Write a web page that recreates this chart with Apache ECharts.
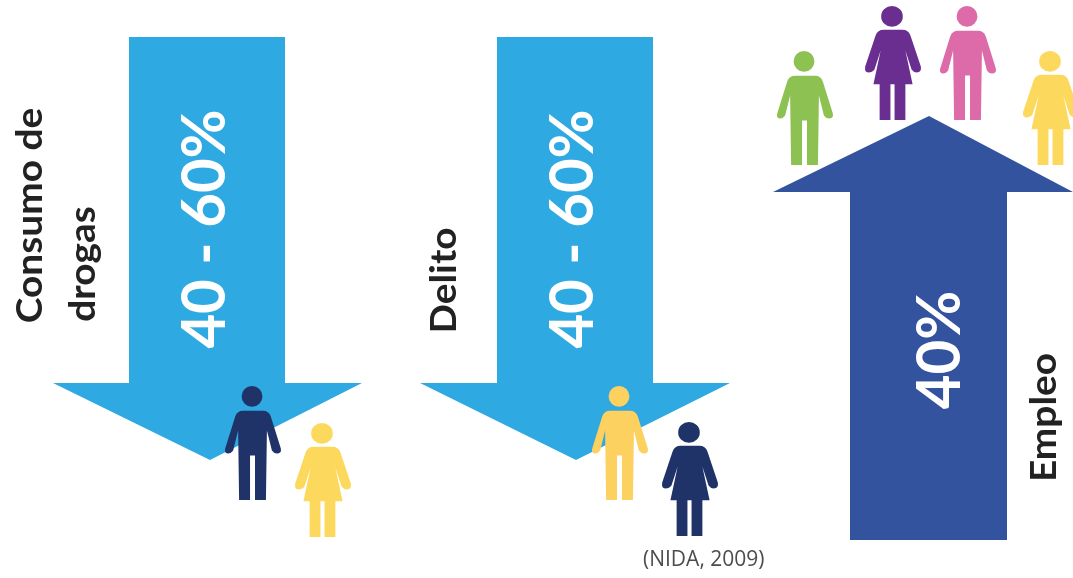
<!DOCTYPE html>
<html>
<head>
<meta charset="utf-8">
<style>html,body{margin:0;padding:0;background:#fff}#main{width:1073px;height:578px}</style>
<script src="https://cdn.jsdelivr.net/npm/echarts@6/dist/echarts.min.js"></script>
</head>
<body>
<div id="main"></div>
<script>
// Outcome names and the share quoted on each arrow
const outcomeLines = [['Consumo de', 'drogas'], ['Delito'], ['Empleo']];
const shareLabels = ['40 - 60%', '40 - 60%', '40%'];
const sourceNote = '(NIDA, 2009)';

// Figures standing beside each arrow: which arrow, silhouette, colour name
const figureArrow = [0, 0, 1, 1, 2, 2, 2, 2];
const figureKind = ['man', 'woman', 'man', 'woman', 'man', 'woman', 'man', 'woman'];
const figureTone = ['navy', 'yellow', 'amber', 'navy', 'green', 'purple', 'pink', 'yellow'];

// Layout, in units of the hidden page-sized axes
const arrowShapes = [
  { shaft: [129, 285], start: 37, neck: 383, head: [53, 362], tip: [210, 460], fill: '#2fa9e1' },
  { shaft: [497, 653], start: 37, neck: 383, head: [420, 730], tip: [576, 460], fill: '#2fa9e1' },
  { shaft: [850, 1007], start: 540, neck: 192, head: [773, 1073], tip: [929, 116], fill: '#34539f' }
];
const figureSpots = [[253, 443], [323, 480], [620, 443], [690, 479], [805, 108], [893, 63], [968, 63], [1051, 108]];
const figureSize = [56, 114];
const tones = {
  navy: '#1f3369', yellow: '#fcd95c', amber: '#fdd15f', green: '#8dc253',
  purple: '#6a2e91', pink: '#dd6aa9'
};
const silhouettes = {
  man: 'path://M27 -1A10.5 10.5 0 1 1 26.99 -1ZM18 24L38 24Q44 24 46 30L56 62Q57 67 52 67Q49 67 47 64L42 44L41 114L30 114L30 69L25 69L25 114L14 114L13 44L8 64Q6 67 3 67Q-1 67 0 62L10 30Q12 24 18 24Z',
  woman: 'path://M27 -1A10.5 10.5 0 1 1 26.99 -1ZM19 23L37 23Q43 23 45 29L55 60Q56 66 51 66Q48 66 46 63L40 44L47 78L40 78L40 114L29.5 114L29.5 78L25.5 78L25.5 114L15 114L15 78L9 78L16 44L10 63Q8 66 4 66Q0 66 1 60L11 29Q13 23 19 23Z'
};
const textSpots = [
  { text: outcomeLines[0][0], at: [30.5, 215.5], size: 37, stretch: 1.05, color: '#222222' },
  { text: outcomeLines[0][1], at: [83, 264], size: 37, stretch: 1.05, color: '#222222' },
  { text: outcomeLines[1][0], at: [444.5, 280.5], size: 37, stretch: 1.05, color: '#222222' },
  { text: outcomeLines[2][0], at: [1044.5, 417.5], size: 37, stretch: 1.05, color: '#222222' },
  { text: shareLabels[0], at: [204.5, 229], size: 62, stretch: 0.965, color: '#ffffff' },
  { text: shareLabels[1], at: [572.5, 229], size: 62, stretch: 0.965, color: '#ffffff' },
  { text: shareLabels[2], at: [939.5, 350], size: 62, stretch: 0.965, color: '#ffffff' }
];

const chart = echarts.init(document.getElementById('main'), null, { renderer: 'canvas' });

chart.setOption({
  animation: false,
  backgroundColor: '#ffffff',
  grid: { left: 0, right: 0, top: 0, bottom: 0 },
  xAxis: { type: 'value', min: 0, max: 1073, show: false },
  yAxis: { type: 'value', min: 0, max: 578, inverse: true, show: false },
  series: [
    {
      // Block arrows
      type: 'custom',
      coordinateSystem: 'cartesian2d',
      silent: true,
      z: 1,
      data: arrowShapes.map((a, i) => [a.tip[0], a.tip[1], i]),
      renderItem(params, api) {
        const a = arrowShapes[api.value(2)];
        const pts = [
          [a.shaft[0], a.start], [a.shaft[1], a.start], [a.shaft[1], a.neck],
          [a.head[1], a.neck], a.tip, [a.head[0], a.neck], [a.shaft[0], a.neck]
        ].map(p => api.coord(p));
        return { type: 'polygon', shape: { points: pts }, style: { fill: a.fill } };
      }
    },
    {
      // People beside the arrows
      type: 'scatter',
      silent: true,
      z: 2,
      data: figureKind.map((kind, i) => ({
        value: figureSpots[i],
        arrow: figureArrow[i],
        symbol: silhouettes[kind],
        symbolSize: figureSize,
        itemStyle: { color: tones[figureTone[i]], opacity: 1 }
      }))
    },
    {
      // Rotated labels, reading bottom to top
      type: 'custom',
      coordinateSystem: 'cartesian2d',
      silent: true,
      z: 3,
      data: textSpots.map((t, i) => [t.at[0], t.at[1], i]),
      renderItem(params, api) {
        const t = textSpots[api.value(2)];
        const p = api.coord(t.at);
        return {
          type: 'text',
          x: p[0], y: p[1],
          rotation: Math.PI / 2,
          scaleX: t.stretch,
          style: {
            text: t.text, fill: t.color, align: 'center', verticalAlign: 'middle',
            font: 'bold ' + t.size + 'px Lato, "Open Sans", sans-serif'
          }
        };
      }
    }
  ],
  graphic: [{
    type: 'text',
    left: 643, top: 550,
    style: { text: sourceNote, fill: '#4d4d4d', font: '21px "Open Sans", sans-serif' }
  }]
});
</script>
</body>
</html>
